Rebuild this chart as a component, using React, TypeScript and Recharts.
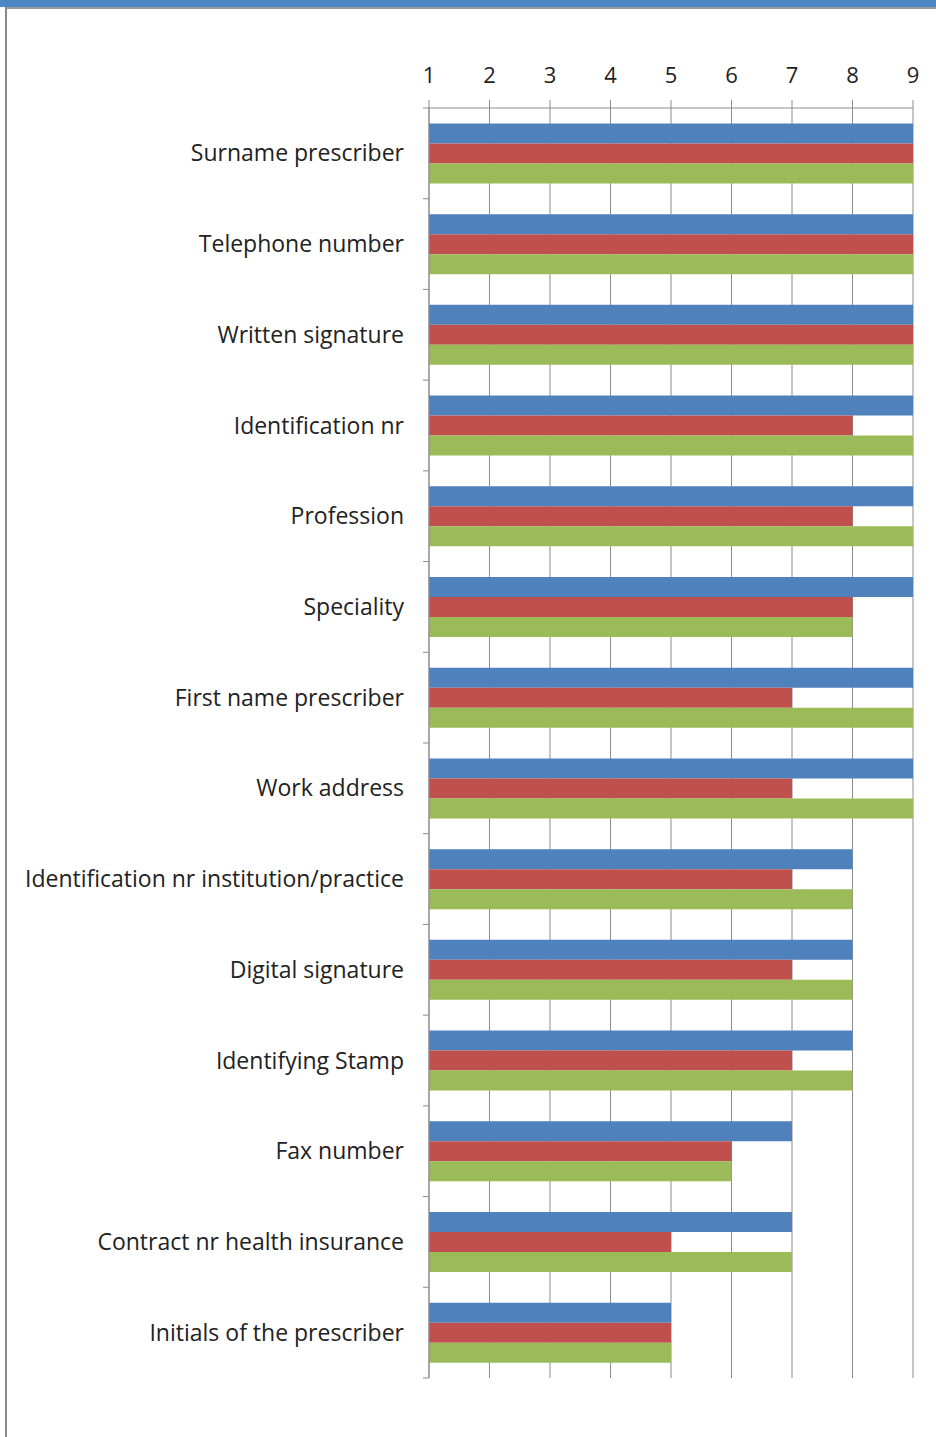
import { BarChart, Bar, XAxis, YAxis, CartesianGrid } from "recharts";

const categories = [
  "Surname prescriber",
  "Telephone number",
  "Written signature",
  "Identification nr",
  "Profession",
  "Speciality",
  "First name prescriber",
  "Work address",
  "Identification nr institution/practice",
  "Digital signature",
  "Identifying Stamp",
  "Fax number",
  "Contract nr health insurance",
  "Initials of the prescriber",
];

const blueValues = [9, 9, 9, 9, 9, 9, 9, 9, 8, 8, 8, 7, 7, 5];
const redValues = [9, 9, 9, 8, 8, 8, 7, 7, 7, 7, 7, 6, 5, 5];
const greenValues = [9, 9, 9, 9, 9, 8, 9, 9, 8, 8, 8, 6, 7, 5];

const xTicks = [1, 2, 3, 4, 5, 6, 7, 8, 9];

const data = categories.map((name, i) => ({
  name,
  blue: blueValues[i],
  red: redValues[i],
  green: greenValues[i],
}));

const W = 936;
const H = 1437;
const PLOT_TOP = 108;
const PLOT_BOTTOM = 1378;
const band = (PLOT_BOTTOM - PLOT_TOP) / categories.length;
const FONT = "'Open Sans', sans-serif";
const GRID = "#8c8c8c";

// category ticks sit between bands (Excel style), label at band centre
function CategoryTick(props: any) {
  const { x, y, payload, index } = props;
  const axisX = x + 25;
  return (
    <g>
      <line x1={axisX - 6} x2={axisX} y1={y - band / 2} y2={y - band / 2} stroke={GRID} />
      {index === categories.length - 1 && (
        <line x1={axisX - 6} x2={axisX} y1={y + band / 2} y2={y + band / 2} stroke={GRID} />
      )}
      <text x={x} y={y} dy={8} textAnchor="end" fontSize={23} fill="#222" fontFamily={FONT}>
        {payload.value}
      </text>
    </g>
  );
}

export default function App() {
  return (
    <div style={{ position: "absolute", left: 0, top: 0, width: W, height: H, background: "#fff" }}>
      <div style={{ position: "absolute", left: 0, top: 0, width: W, height: 7, background: "#4f86c6" }} />
      <div style={{ position: "absolute", left: 5, top: 7, width: W - 5, height: 2, background: "#9a9a9a" }} />
      <div style={{ position: "absolute", left: 5, top: 7, width: 2, height: H - 7, background: "#8a8a8a" }} />
      <BarChart
        width={W}
        height={H}
        data={data}
        layout="vertical"
        margin={{ top: 0, right: 23, bottom: H - PLOT_BOTTOM, left: 0 }}
        barCategoryGap="17%"
        barGap={0}
        style={{ position: "absolute", left: 0, top: 0 }}
      >
        <CartesianGrid horizontal={false} stroke={GRID} />
        <XAxis
          type="number"
          orientation="top"
          domain={[1, 9]}
          ticks={xTicks}
          height={PLOT_TOP}
          tickSize={8}
          tickMargin={17}
          interval={0}
          stroke={GRID}
          tick={{ fontSize: 22, fill: "#222", fontFamily: FONT }}
        />
        <YAxis
          type="category"
          dataKey="name"
          width={429}
          tickLine={false}
          tickSize={0}
          tickMargin={25}
          stroke={GRID}
          interval={0}
          tick={<CategoryTick />}
        />
        <Bar dataKey="blue" fill="#4f81bd" isAnimationActive={false} />
        <Bar dataKey="red" fill="#c0504d" isAnimationActive={false} />
        <Bar dataKey="green" fill="#9bbb59" isAnimationActive={false} />
      </BarChart>
    </div>
  );
}
